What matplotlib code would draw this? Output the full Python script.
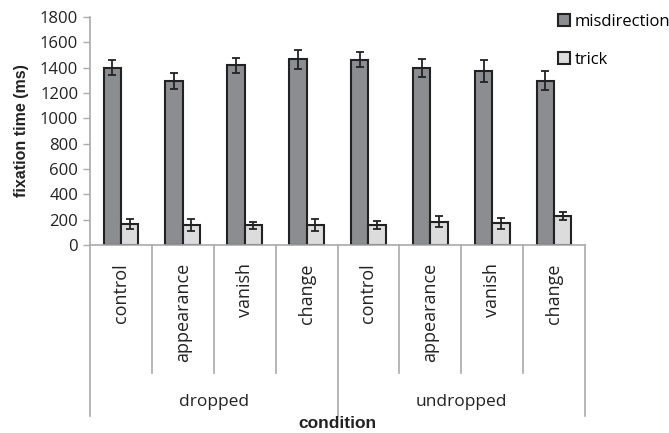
import numpy as np
import matplotlib
matplotlib.use("Agg")
import matplotlib.pyplot as plt
from matplotlib.patches import Patch

plt.rcParams['font.family'] = ['Open Sans', 'DejaVu Sans']

groups = ['dropped', 'undropped']
conds = ['control', 'appearance', 'vanish', 'change']
misdirection = [1400, 1295, 1418, 1465, 1463, 1400, 1372, 1296]
misdirection_err = [60, 60, 60, 72, 60, 72, 88, 75]
trick = [168, 158, 155, 155, 155, 185, 170, 232]
trick_err = [38, 45, 30, 48, 32, 45, 45, 32]

labels = conds * len(groups)
x = np.arange(len(labels))
w = 0.28

fig = plt.figure(figsize=(6.69, 4.33), dpi=100)
ax = fig.add_axes([90/669, 1-245/433, 495/669, 228/433])

ekw = dict(ecolor='#222222', elinewidth=1.3, capthick=1.3)
ax.bar(x - w/2, misdirection, w, color='#8c8d91', edgecolor='#222222', linewidth=1.5,
       yerr=misdirection_err, capsize=3, error_kw=ekw)
ax.bar(x + w/2, trick, w, color='#dcdcdc', edgecolor='#222222', linewidth=1.5,
       yerr=trick_err, capsize=3, error_kw=ekw)

ax.set_xlim(-0.5, len(labels) - 0.5)
ax.set_ylim(0, 1800)
ax.set_yticks(np.arange(0, 1801, 200))
ax.tick_params(axis='y', labelsize=12, colors='#aaaaaa', labelcolor='#222222', length=5, width=1)
ax.set_xticks(x, labels, rotation=90, fontsize=13, color='#222222')
ax.tick_params(axis='x', length=0, pad=13)

for s in ['top', 'right']:
    ax.spines[s].set_visible(False)
for s in ['left', 'bottom']:
    ax.spines[s].set_color('#aaaaaa')
    ax.spines[s].set_linewidth(1.2)

tr = ax.get_xaxis_transform()
inner_y = (245 - 373) / 228
outer_y = (245 - 416) / 228
for i in range(len(labels) + 1):
    xb = i - 0.5
    yb = outer_y if i % len(conds) == 0 else inner_y
    ax.plot([xb, xb], [0, yb], transform=tr, color='#aaaaaa', lw=1.2, clip_on=False)

for gi, g in enumerate(groups):
    xc = gi * len(conds) + (len(conds) - 1) / 2
    ax.text(xc, (245 - 402) / 228, g, transform=tr, ha='center', va='center',
            fontsize=12.5, color='#222222')

ax.set_ylabel('fixation time (ms)', fontsize=11.5, fontweight='bold',
              family=['Liberation Sans'], labelpad=8, color='#222222')
fig.text(337/669, 1 - 424/433, 'condition', ha='center', va='center', fontsize=12.5,
         fontweight='bold', family=['Liberation Sans'], color='#222222')

handles = [Patch(facecolor='#8c8d91', edgecolor='#222222', linewidth=1.5),
           Patch(facecolor='#dcdcdc', edgecolor='#222222', linewidth=1.5)]
fig.legend(handles, ['misdirection', 'trick'], loc='upper left',
           bbox_to_anchor=(548/669, 1 - 4/433), frameon=False, fontsize=12,
           handlelength=0.7, handleheight=0.7, handletextpad=0.3, labelspacing=1.3,
           borderaxespad=0.2)

fig.savefig('out.png', dpi=100)
